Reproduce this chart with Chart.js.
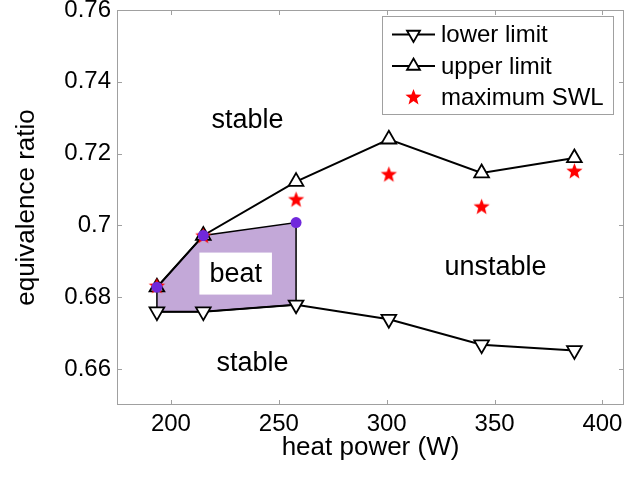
<!DOCTYPE html>
<html>
<head>
<meta charset="utf-8">
<script src="https://cdn.jsdelivr.net/npm/chart.js@4.4.0/dist/chart.umd.min.js"></script>
<style>
html, body { margin: 0; padding: 0; background: #fff; }
</style>
</head>
<body>
<canvas id="c" width="627" height="484"></canvas>
<script>
var heatPower = [193.5, 215, 258, 301, 344, 387];
var lowerLimit = [0.676, 0.676, 0.6779, 0.6739, 0.6668, 0.6652];
var upperLimit = [0.6828, 0.6972, 0.7122, 0.724, 0.7146, 0.7188];
var maxSWL = [0.683, 0.697, 0.7071, 0.7141, 0.7051, 0.715];

// beat region: upper edge points, lower edge follows the lower limit
var beatPower = [193.5, 215, 258];
var beatTop = [0.6828, 0.6972, 0.7008];

var xTicks = [200, 250, 300, 350, 400];
var yTicks = [0.66, 0.68, 0.7, 0.72, 0.74, 0.76];

var regionNames = ['stable', 'stable', 'unstable', 'beat'];
var regionX = [235.5, 237.8, 350.4, 230];
var regionY = [0.7295, 0.6618, 0.6886, 0.6866];

var FONT = "'Liberation Sans', Arial, sans-serif";
var AXIS_GRAY = '#a0a0a0';
var BEAT_FILL = 'rgb(195,168,216)';
var BEAT_DOT = 'rgb(112,40,220)';

function makeStar(r, color) {
    var size = Math.ceil(r * 2) + 2;
    var c = document.createElement('canvas');
    c.width = size;
    c.height = size;
    var g = c.getContext('2d');
    g.fillStyle = color;
    g.beginPath();
    for(var i = 0; i < 10; i++) {
        var rr = (i % 2) ? r * 0.42 : r;
        var a = -Math.PI / 2 + i * Math.PI / 5;
        g.lineTo(size / 2 + rr * Math.cos(a), size / 2 + rr * Math.sin(a));
    }
    g.closePath();
    g.fill();
    return c;
}

var star = makeStar(8.5, '#ff0000');

function pts(xs, ys) {
    var res = [];
    for(var i = 0; i < xs.length; i++) res.push({x: xs[i], y: ys[i]});
    return res;
}

// closed outline: along the top, down the right side, back along the lower limit
var beatShape = pts(beatPower, beatTop);
for(var i = beatPower.length - 1; i >= 0; i--) {
    beatShape.push({x: beatPower[i], y: lowerLimit[i]});
}
beatShape.push({x: beatPower[0], y: beatTop[0]});

var boxPlugin = {
    id: 'box',
    beforeDatasetsDraw: function(chart) {
        var ctx = chart.ctx;
        var a = chart.chartArea;
        var sx = chart.scales.x, sy = chart.scales.y;
        ctx.save();
        ctx.strokeStyle = AXIS_GRAY;
        ctx.lineWidth = 1;
        ctx.strokeRect(a.left + 0.5, a.top + 0.5, a.right - a.left - 1, a.bottom - a.top - 1);
        ctx.beginPath();
        for(var i = 0; i < xTicks.length; i++) {
            var px = Math.round(sx.getPixelForValue(xTicks[i])) + 0.5;
            ctx.moveTo(px, a.bottom); ctx.lineTo(px, a.bottom - 5);
            ctx.moveTo(px, a.top); ctx.lineTo(px, a.top + 5);
        }
        for(var j = 0; j < yTicks.length; j++) {
            var py = Math.round(sy.getPixelForValue(yTicks[j])) + 0.5;
            ctx.moveTo(a.left, py); ctx.lineTo(a.left + 5, py);
            ctx.moveTo(a.right, py); ctx.lineTo(a.right - 5, py);
        }
        ctx.stroke();
        ctx.restore();
    }
};

var labelPlugin = {
    id: 'regions',
    afterDatasetsDraw: function(chart) {
        var ctx = chart.ctx;
        var sx = chart.scales.x, sy = chart.scales.y;
        ctx.save();
        ctx.font = '27px ' + FONT;
        ctx.textAlign = 'center';
        ctx.textBaseline = 'middle';
        for(var i = 0; i < regionNames.length; i++) {
            var px = sx.getPixelForValue(regionX[i]);
            var py = sy.getPixelForValue(regionY[i]);
            if(regionNames[i] == 'beat') {
                var w = ctx.measureText(regionNames[i]).width + 20;
                ctx.fillStyle = '#fff';
                ctx.fillRect(px - w / 2, py - 21, w, 42);
            }
            ctx.fillStyle = '#000';
            ctx.fillText(regionNames[i], px, py + 1);
        }
        ctx.restore();
    }
};

var legendPlugin = {
    id: 'boxLegend',
    afterDraw: function(chart) {
        var ctx = chart.ctx;
        var x0 = 382, y0 = 16, w = 231, h = 98;
        var rows = [
            {text: 'lower limit', style: 'triangle', rot: 180, line: true},
            {text: 'upper limit', style: 'triangle', rot: 0, line: true},
            {text: 'maximum SWL', style: 'star', rot: 0, line: false}
        ];
        ctx.save();
        ctx.fillStyle = '#fff';
        ctx.fillRect(x0, y0, w, h);
        ctx.strokeStyle = AXIS_GRAY;
        ctx.lineWidth = 1;
        ctx.strokeRect(x0 + 0.5, y0 + 0.5, w, h);
        ctx.font = '24px ' + FONT;
        ctx.textBaseline = 'middle';
        for(var i = 0; i < rows.length; i++) {
            var cy = 34.5 + i * 31.5;
            var r = rows[i];
            if(r.line) {
                ctx.strokeStyle = '#000';
                ctx.lineWidth = 2;
                ctx.beginPath();
                ctx.moveTo(392, cy); ctx.lineTo(435, cy);
                ctx.stroke();
                ctx.fillStyle = '#fff';
                ctx.lineWidth = 1.8;
                Chart.helpers.drawPoint(ctx, {pointStyle: r.style, radius: 7.5, rotation: r.rot, borderWidth: 1.8}, 413.5, cy);
            }
            else {
                ctx.drawImage(star, 413.5 - star.width / 2, cy - star.height / 2);
            }
            ctx.fillStyle = '#000';
            ctx.fillText(r.text, 441, cy + 1);
        }
        ctx.restore();
    }
};

new Chart(document.getElementById('c'), {
    type: 'line',
    data: {
        datasets: [{
            label: 'beat',
            data: beatShape,
            fill: 'shape',
            backgroundColor: BEAT_FILL,
            borderColor: '#000',
            borderWidth: 1.5,
            pointRadius: 0,
            tension: 0,
            order: 10,
        }, {
            label: 'lower limit',
            data: pts(heatPower, lowerLimit),
            borderColor: '#000',
            borderWidth: 2,
            pointStyle: 'triangle',
            rotation: 180,
            pointRadius: 8.5,
            pointBackgroundColor: '#fff',
            pointBorderColor: '#000',
            pointBorderWidth: 1.8,
            fill: false,
            tension: 0,
            order: 5,
        }, {
            label: 'upper limit',
            data: pts(heatPower, upperLimit),
            borderColor: '#000',
            borderWidth: 2,
            pointStyle: 'triangle',
            pointRadius: 8.5,
            pointBackgroundColor: '#fff',
            pointBorderColor: '#000',
            pointBorderWidth: 1.8,
            fill: false,
            tension: 0,
            order: 4,
        }, {
            label: 'maximum SWL',
            data: pts(heatPower, maxSWL),
            showLine: false,
            pointStyle: star,
            pointRadius: 8,
            order: 2,
        }, {
            label: 'beat points',
            data: pts(beatPower, beatTop),
            showLine: false,
            pointStyle: 'circle',
            pointRadius: 5.5,
            pointBackgroundColor: BEAT_DOT,
            pointBorderColor: BEAT_DOT,
            pointBorderWidth: 0,
            order: 1,
        }]
    },
    options: {
        responsive: false,
        animation: false,
        layout: {autoPadding: false, padding: {top: 10, right: 3, left: 0, bottom: 0}},
        plugins: {
            legend: {display: false},
            tooltip: {enabled: false},
        },
        scales: {
            x: {
                type: 'linear',
                min: 175,
                max: 410,
                afterFit: function(s) {
                    s.height = 79;
                    s.paddingLeft = 0;
                    s.paddingRight = 0;
                },
                afterBuildTicks: function(s) {
                    s.ticks = xTicks.map(function(v) { return {value: v}; });
                },
                grid: {display: false, drawTicks: false},
                border: {display: false},
                ticks: {
                    color: '#000',
                    padding: 5,
                    maxRotation: 0,
                    font: {family: FONT, size: 24},
                },
                title: {
                    display: true,
                    text: 'heat power (W)',
                    color: '#000',
                    padding: {top: 0, bottom: 21},
                    font: {family: FONT, size: 26},
                },
            },
            y: {
                type: 'linear',
                min: 0.65,
                max: 0.76,
                afterFit: function(s) {
                    s.width = 117;
                    s.paddingTop = 0;
                    s.paddingBottom = 0;
                },
                afterBuildTicks: function(s) {
                    s.ticks = yTicks.map(function(v) { return {value: v}; });
                },
                grid: {display: false, drawTicks: false},
                border: {display: false},
                ticks: {
                    color: '#000',
                    padding: 6,
                    font: {family: FONT, size: 24},
                    callback: function(v) { return String(Number(v.toFixed(2))); },
                },
                title: {
                    display: true,
                    text: 'equivalence ratio',
                    color: '#000',
                    padding: {top: 11, bottom: 0},
                    font: {family: FONT, size: 26},
                },
            },
        },
    },
    plugins: [boxPlugin, labelPlugin, legendPlugin],
});
</script>
</body>
</html>
